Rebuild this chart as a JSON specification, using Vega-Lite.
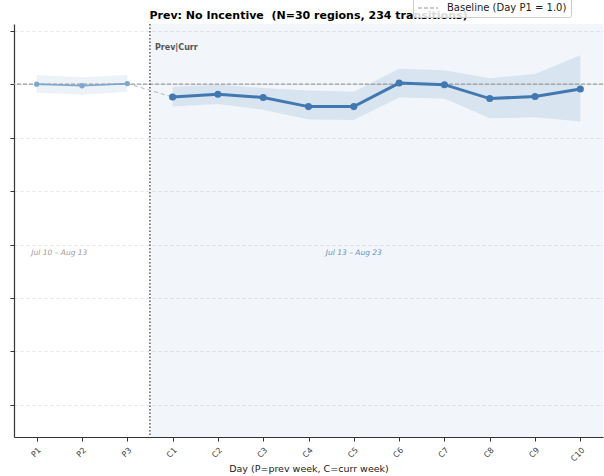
{
  "$schema": "https://vega.github.io/schema/vega-lite/v6.json",
  "autosize": {"type": "none"},
  "width": 589,
  "height": 413,
  "padding": {"left": 14, "top": 24, "right": 1, "bottom": 39},
  "background": "white",
  "config": {
    "font": "DejaVu Sans",
    "view": {"stroke": null},
    "axis": {"labelFont": "DejaVu Sans", "titleFont": "DejaVu Sans"}
  },
  "title": {
    "text": "Prev: No Incentive \u00a0(N=30 regions, 234 transitions)",
    "fontSize": 11,
    "fontWeight": "bold",
    "color": "#000",
    "anchor": "middle",
    "offset": -28
  },
  "datasets": {
    "series": [
      {"day": "P1", "idx": 0, "period": "Prev", "mean": 1.000, "lo": 0.984, "hi": 1.017},
      {"day": "P2", "idx": 1, "period": "Prev", "mean": 0.997, "lo": 0.980, "hi": 1.013},
      {"day": "P3", "idx": 2, "period": "Prev", "mean": 1.001, "lo": 0.986, "hi": 1.017},
      {"day": "C1", "idx": 3, "period": "Curr", "mean": 0.976, "lo": 0.958, "hi": 0.995},
      {"day": "C2", "idx": 4, "period": "Curr", "mean": 0.981, "lo": 0.963, "hi": 0.999},
      {"day": "C3", "idx": 5, "period": "Curr", "mean": 0.975, "lo": 0.952, "hi": 0.993},
      {"day": "C4", "idx": 6, "period": "Curr", "mean": 0.958, "lo": 0.934, "hi": 0.988},
      {"day": "C5", "idx": 7, "period": "Curr", "mean": 0.958, "lo": 0.933, "hi": 0.986},
      {"day": "C6", "idx": 8, "period": "Curr", "mean": 1.002, "lo": 0.975, "hi": 1.029},
      {"day": "C7", "idx": 9, "period": "Curr", "mean": 0.999, "lo": 0.973, "hi": 1.026},
      {"day": "C8", "idx": 10, "period": "Curr", "mean": 0.973, "lo": 0.936, "hi": 1.011},
      {"day": "C9", "idx": 11, "period": "Curr", "mean": 0.977, "lo": 0.938, "hi": 1.019},
      {"day": "C10", "idx": 12, "period": "Curr", "mean": 0.991, "lo": 0.930, "hi": 1.054}
    ],
    "notes": [
      {"kind": "divider", "text": "Prev|Curr", "x": 2.5, "y": 1.068},
      {"kind": "prev", "text": "Jul 10 – Aug 13", "x": 0.5, "y": 0.685},
      {"kind": "curr", "text": "Jul 13 – Aug 23", "x": 7, "y": 0.685}
    ],
    "periods": [{"period": "Curr", "start": 2.5, "end": 12.5}],
    "baseline": [{"label": "Baseline (Day P1 = 1.0)", "v": 1.0}]
  },
  "layer": [
    {
      "data": {"name": "periods"},
      "mark": {"type": "rect", "fill": "#4682b4", "opacity": 0.07},
      "encoding": {
        "x": {
          "field": "start",
          "type": "quantitative",
          "scale": {"domain": [-0.5, 12.5], "nice": false, "zero": false},
          "axis": {
            "values": [0, 1, 2, 3, 4, 5, 6, 7, 8, 9, 10, 11, 12],
            "labelExpr": "datum.value < 3 ? 'P' + (datum.value + 1) : 'C' + (datum.value - 2)",
            "title": "Day  (P=prev week, C=curr week)",
            "titleFontSize": 9.5,
            "titleFontWeight": "normal",
            "titleColor": "#222",
            "titlePadding": 1,
            "labelAngle": -45,
            "labelAlign": "right",
            "labelBaseline": "top",
            "labelFontSize": 8,
            "labelColor": "#444",
            "labelPadding": 5,
            "tickSize": 4,
            "tickColor": "#333",
            "domainColor": "#333",
            "domainWidth": 1.2,
            "grid": false
          }
        },
        "x2": {"field": "end"}
      }
    },
    {
      "data": {"name": "series"},
      "transform": [{"filter": "datum.period == 'Prev'"}],
      "mark": {"type": "area", "color": "#4682b4", "opacity": 0.1},
      "encoding": {
        "x": {"field": "idx", "type": "quantitative"},
        "y": {
          "field": "lo",
          "type": "quantitative",
          "scale": {"domain": [0.34, 1.1125], "nice": false, "zero": false},
          "axis": {
            "values": [0.4, 0.5, 0.6, 0.7, 0.8, 0.9, 1.0, 1.1],
            "labels": false,
            "title": null,
            "tickSize": 4,
            "tickColor": "#333",
            "domainColor": "#333",
            "domainWidth": 1.2,
            "grid": true,
            "gridColor": "#dddddd",
            "gridDash": [3, 3],
            "gridWidth": 0.8
          }
        },
        "y2": {"field": "hi"}
      }
    },
    {
      "data": {"name": "series"},
      "transform": [{"filter": "datum.period == 'Curr'"}],
      "mark": {"type": "area", "color": "#4682b4", "opacity": 0.15},
      "encoding": {
        "x": {"field": "idx", "type": "quantitative"},
        "y": {"field": "lo", "type": "quantitative"},
        "y2": {"field": "hi"}
      }
    },
    {
      "data": {"name": "baseline"},
      "mark": {"type": "rule", "strokeWidth": 1.2},
      "encoding": {
        "y": {"field": "v", "type": "quantitative"},
        "color": {
          "field": "label",
          "type": "nominal",
          "scale": {"range": ["#999999"]},
          "legend": {
            "title": null,
            "orient": "none",
            "legendX": 399,
            "legendY": -31,
            "symbolType": "stroke",
            "symbolSize": 400,
            "symbolStrokeWidth": 1.2,
            "labelFontSize": 10,
            "labelColor": "#222",
            "labelOffset": 8,
            "padding": 4,
            "fillColor": "rgba(255,255,255,0.85)",
            "strokeColor": "#cccccc",
            "cornerRadius": 2,
            "zindex": 2
          }
        },
        "strokeDash": {
          "field": "label",
          "type": "nominal",
          "scale": {"range": [[4, 2]]},
          "legend": null
        }
      }
    },
    {
      "data": {"name": "periods"},
      "mark": {"type": "rule", "color": "#444", "strokeDash": [1.5, 2], "strokeWidth": 1.3},
      "encoding": {"x": {"field": "start", "type": "quantitative"}}
    },
    {
      "data": {"name": "series"},
      "transform": [{"filter": "datum.idx == 2 || datum.idx == 3"}],
      "mark": {"type": "line", "color": "#a8b8c8", "strokeDash": [4, 3], "strokeWidth": 1},
      "encoding": {
        "x": {"field": "idx", "type": "quantitative"},
        "y": {"field": "mean", "type": "quantitative"}
      }
    },
    {
      "data": {"name": "series"},
      "transform": [{"filter": "datum.period == 'Prev'"}],
      "mark": {"type": "line", "color": "#7fa6cc", "strokeWidth": 1.6, "point": {"filled": true, "size": 28, "color": "#7fa6cc"}},
      "encoding": {
        "x": {"field": "idx", "type": "quantitative"},
        "y": {"field": "mean", "type": "quantitative"}
      }
    },
    {
      "data": {"name": "series"},
      "transform": [{"filter": "datum.period == 'Curr'"}],
      "mark": {"type": "line", "color": "#4178b0", "strokeWidth": 3, "point": {"filled": true, "size": 50, "color": "#4178b0"}},
      "encoding": {
        "x": {"field": "idx", "type": "quantitative"},
        "y": {"field": "mean", "type": "quantitative"}
      }
    },
    {
      "data": {"name": "notes"},
      "transform": [{"filter": "datum.kind == 'divider'"}],
      "mark": {"type": "text", "align": "left", "baseline": "middle", "dx": 5, "fontSize": 8, "fontWeight": "bold", "color": "#555"},
      "encoding": {"x": {"field": "x", "type": "quantitative"}, "y": {"field": "y", "type": "quantitative"}, "text": {"field": "text"}}
    },
    {
      "data": {"name": "notes"},
      "transform": [{"filter": "datum.kind == 'prev'"}],
      "mark": {"type": "text", "align": "center", "baseline": "middle", "fontSize": 7.5, "fontStyle": "italic", "color": "#999"},
      "encoding": {"x": {"field": "x", "type": "quantitative"}, "y": {"field": "y", "type": "quantitative"}, "text": {"field": "text"}}
    },
    {
      "data": {"name": "notes"},
      "transform": [{"filter": "datum.kind == 'curr'"}],
      "mark": {"type": "text", "align": "center", "baseline": "middle", "fontSize": 7.5, "fontStyle": "italic", "color": "#5b8fc4"},
      "encoding": {"x": {"field": "x", "type": "quantitative"}, "y": {"field": "y", "type": "quantitative"}, "text": {"field": "text"}}
    }
  ]
}
